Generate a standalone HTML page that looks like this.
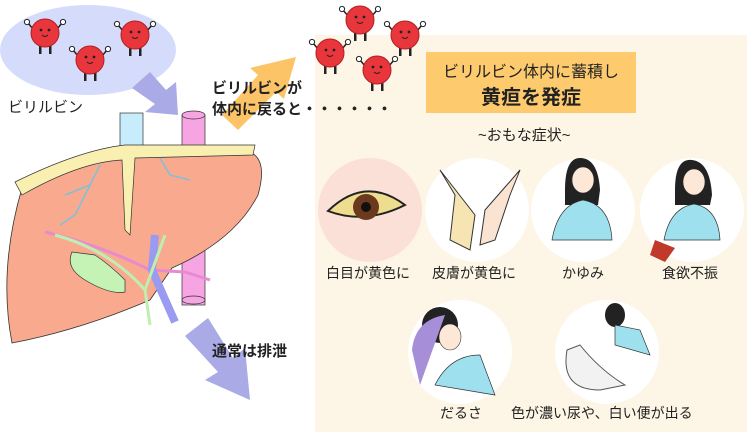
<!DOCTYPE html>
<html><head><meta charset="utf-8"><style>
html,body{margin:0;padding:0;background:#fff;}
body{width:750px;height:435px;position:relative;overflow:hidden;font-family:"Liberation Sans","Noto Sans CJK JP",sans-serif;color:#222;}
.t{position:absolute;white-space:nowrap;}
</style></head><body>
<svg width="750" height="435" style="position:absolute;left:0;top:0">
<defs>
<g id="rb">
<line x1="-12" y1="-4" x2="-17" y2="-10" stroke="#222" stroke-width="1.5"/>
<line x1="12" y1="-4" x2="17" y2="-10" stroke="#222" stroke-width="1.5"/>
<circle cx="-18" cy="-11" r="2.6" fill="#fff" stroke="#222"/>
<circle cx="18" cy="-11" r="2.6" fill="#fff" stroke="#222"/>
<rect x="-6" y="10" width="2.5" height="11" fill="#222"/>
<rect x="4" y="10" width="2.5" height="11" fill="#222"/>
<circle r="14" fill="#e8363c" stroke="#b02025"/>
<circle cx="-4" cy="-3" r="1.4" fill="#222"/><circle cx="4" cy="-3" r="1.4" fill="#222"/>
<path d="M-3 2 Q0 5 3 2" stroke="#222" fill="none"/>
</g>
</defs>
<ellipse cx="88" cy="50" rx="88" ry="45" fill="#d5dcfb"/>
<use href="#rb" x="45" y="33"/><use href="#rb" x="135" y="35"/><use href="#rb" x="90" y="60"/>
<rect x="315" y="35" width="432" height="397" fill="#fdf5e5"/>
<polygon points="132,88 150,72 166,90 176,82 178,115 145,112 155,104" fill="#a9aae6"/>
<polygon points="222,115 258,75 250,68 296,57 284,99 276,92 238,130" fill="#fcc467"/>
<polygon points="185,336 208,318 233,358 245,348 250,400 205,380 218,372" fill="#a9aae6"/>
<rect x="120" y="113" width="23" height="35" fill="#c7ecfb" stroke="#333" stroke-width="0.7"/>
<rect x="182" y="115" width="23" height="190" fill="#f7a4e3" stroke="#333" stroke-width="0.7"/>
<ellipse cx="193.5" cy="115" rx="11.5" ry="4" fill="#f7a4e3" stroke="#333" stroke-width="0.7"/>
<ellipse cx="193.5" cy="300" rx="11.5" ry="4" fill="#f7a4e3" stroke="#333" stroke-width="0.7"/>
<path d="M22 188 Q80 160 135 150 L250 152 Q268 160 258 195 Q235 240 172 268 L150 300 Q80 330 12 343 Q-2 270 22 188 Z" fill="#f8a98e" stroke="#333" stroke-width="0.8"/>
<path d="M15 182 Q80 150 125 145 L255 145 L253 155 L135 158 L130 235 L125 230 L122 160 Q80 162 22 195 Z" fill="#f8efb0" stroke="#333" stroke-width="0.7"/>
<path d="M100 165 L90 185 L65 195 M90 185 L75 215 L60 225 M160 158 L170 175 L190 180" stroke="#7fc0d8" stroke-width="1.5" fill="none"/>
<path d="M45 232 Q100 245 150 270 L185 272 L210 280" stroke="#e88ad0" stroke-width="3" fill="none"/>
<path d="M155 235 L152 270 L175 322" stroke="#9a9af0" stroke-width="8" fill="none"/>
<path d="M55 235 Q110 250 145 290 L150 325 M145 290 L165 235" stroke="#bfefb0" stroke-width="3" fill="none"/>
<path d="M72 252 Q65 268 85 280 Q110 295 125 292 L125 280 Q110 265 95 255 Z" fill="#c5f3b5" stroke="#333" stroke-width="0.7"/>
<use href="#rb" x="360" y="20"/><use href="#rb" x="405" y="35"/><use href="#rb" x="330" y="53"/><use href="#rb" x="377" y="70"/>
<rect x="426" y="52" width="210" height="61" fill="#fdcb6e"/>
<circle cx="370" cy="210" r="52" fill="#fbe0d8"/>
<circle cx="477" cy="210" r="52" fill="#fff"/>
<circle cx="583" cy="210" r="52" fill="#fff"/>
<circle cx="692" cy="210" r="52" fill="#fff"/>
<circle cx="460" cy="352" r="52" fill="#fff"/>
<circle cx="607" cy="352" r="52" fill="#fff"/>
<path d="M328 211 Q365 175 405 205 Q365 225 328 211 Z" fill="#eedd8e" stroke="#222" stroke-width="2"/>
<circle cx="366" cy="207" r="13" fill="#6b3a1e"/><circle cx="366" cy="207" r="5" fill="#111"/>
<path d="M440 170 L455 195 L450 240 L470 250 L475 215 Z" fill="#f6e5b3" stroke="#333"/>
<path d="M520 170 L510 195 L495 240 L480 245 L485 210 Z" fill="#fbe3d2" stroke="#333"/>
<g fill="#222">
<path d="M565 190 Q565 158 580 158 Q598 158 600 190 L598 205 L565 205 Z"/>
<path d="M675 190 Q675 158 692 160 Q710 162 712 195 L710 205 L675 205 Z"/>
<ellipse cx="440" cy="325" rx="18" ry="18"/><ellipse cx="615" cy="315" rx="10" ry="12"/>
</g>
<g fill="#fde8d8" stroke="#333" stroke-width="0.6">
<ellipse cx="583" cy="180" rx="11" ry="13"/><ellipse cx="694" cy="182" rx="11" ry="13"/>
<ellipse cx="450" cy="337" rx="11" ry="13"/>
</g>
<g fill="#9fe0ef" stroke="#333" stroke-width="0.7">
<path d="M552 240 Q558 205 583 200 Q610 205 612 240 Z"/>
<path d="M664 240 Q670 208 694 204 Q718 208 720 240 Z"/>
<path d="M435 385 Q450 355 480 355 L495 395 Z"/>
<path d="M615 325 L640 330 L650 355 L615 345 Z"/>
</g>
<path d="M412 350 Q415 320 445 315 L420 385 Z" fill="#a78ed8"/>
<path d="M567 350 Q560 390 600 390 L625 385 Q600 370 580 345 Z" fill="#f2f2f2" stroke="#555"/>
<path d="M655 240 L675 248 L665 262 L650 255 Z" fill="#c0392b"/>
</svg>
<div class="t" style="left:8px;top:96px;font-size:15px;">ビリルビン</div>
<div class="t" style="left:212px;top:78px;font-size:15px;line-height:21px;font-weight:bold;">ビリルビンが<br>体内に戻ると・・・・・・</div>
<div class="t" style="left:212px;top:340px;font-size:15px;font-weight:bold;">通常は排泄</div>
<div class="t" style="left:426px;top:58px;width:210px;text-align:center;font-size:16px;">ビリルビン体内に蓄積し</div>
<div class="t" style="left:426px;top:81px;width:210px;text-align:center;font-size:20px;font-weight:bold;">黄疸を発症</div>
<div class="t" style="left:478px;top:124px;font-size:15px;">~おもな症状~</div>
<div class="t" style="left:326px;top:263px;font-size:14px;">白目が黄色に</div>
<div class="t" style="left:432px;top:263px;font-size:14px;">皮膚が黄色に</div>
<div class="t" style="left:562px;top:263px;font-size:14px;">かゆみ</div>
<div class="t" style="left:662px;top:263px;font-size:14px;">食欲不振</div>
<div class="t" style="left:440px;top:403px;font-size:14px;">だるさ</div>
<div class="t" style="left:511px;top:403px;font-size:14px;">色が濃い尿や、白い便が出る</div>
</body></html>
